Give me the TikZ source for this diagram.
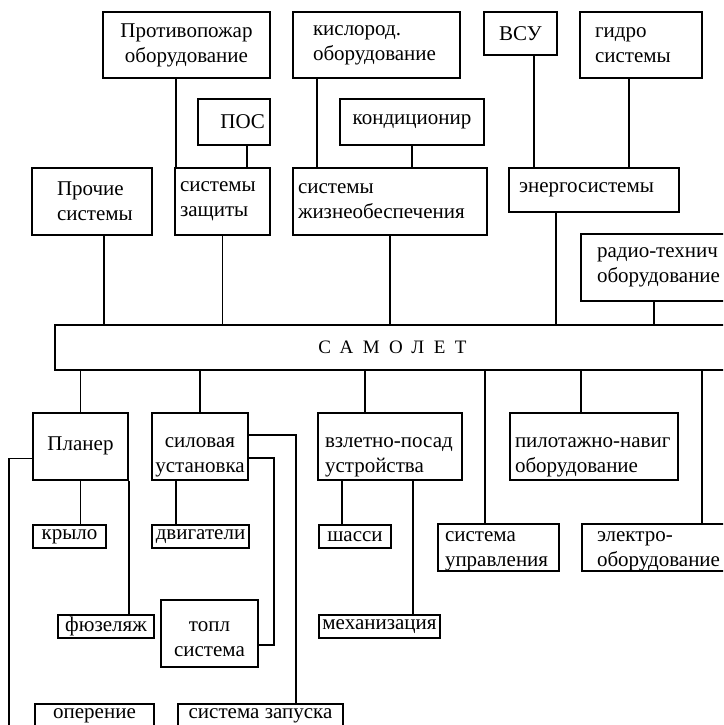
\documentclass[tikz,border=0pt]{standalone}
\usepackage{fontspec}
\setmainfont{Liberation Serif}
\usetikzlibrary{calc}
\newcommand{\lowrule}[1]{\rule{0pt}{#1pt}}

\begin{document}
\begin{tikzpicture}[x=1pt, y=-1pt,
  blk/.style={draw, line width=1.7pt, rectangle, inner sep=0pt, align=center,
    font=\fontsize{21}{25}\selectfont},
  lblk/.style={blk, align=left},
  cutblk/.style={blk, text height=14pt, text depth=42pt},
  link/.style={line width=1.7pt}]
  \useasboundingbox (0,0) rectangle (723,725);
  \clip (0,0) rectangle (723,725);

  % upper part
  \node[blk, minimum width=167pt, minimum height=66pt] (fire) at (186.5,45) {Противопожар\\оборудование};
  \node[lblk, minimum width=167pt, minimum height=66pt, text width=127pt] (oxy) at (376.5,45) {кислород.\\оборудование};
  \node[blk, minimum width=73pt, minimum height=43pt] (apu) at (520.5,33.5) {ВСУ};
  \node[lblk, minimum width=122pt, minimum height=66pt, text width=92pt] (hydro) at (641,45) {гидро\\системы};
  \node[blk, align=right, minimum width=72pt, minimum height=46pt, text width=62pt] (pos) at (234,122) {ПОС};
  \node[blk, minimum width=144pt, minimum height=46pt] (cond) at (412,122) {кондиционир};
  \node[lblk, minimum width=120pt, minimum height=67pt, text width=70pt] (other) at (92,201.5) {Прочие\\системы};
  \node[lblk, minimum width=95pt, minimum height=67pt, text width=85pt] (prot) at (222.5,201.5) {системы\\защиты};
  \node[lblk, minimum width=194pt, minimum height=67pt, text width=184pt] (life) at (390,201.5) {системы\\жизнеобеспечения};
  \node[lblk, minimum width=170pt, minimum height=44pt, text width=150pt] (energy) at (594,190) {энергосистемы};
  \node[lblk, minimum width=179pt, minimum height=67pt, text width=147pt] (radio) at (670.5,267.5) {радио-технич\\оборудование};

  \node[blk, minimum width=675pt, minimum height=45pt, font=\fontsize{19}{22}\selectfont] (plane) at (392.5,347.5)
    {\addfontfeature{LetterSpace=50}САМОЛЕТ};

  % lower part
  \node[blk, minimum width=95pt, minimum height=67pt, text height=37pt, text depth=30pt] (airframe) at (80.5,446.5) {Планер};
  \node[blk, minimum width=96pt, minimum height=67pt] (power) at (200,446.5) {\lowrule{32}силовая\\установка};
  \node[lblk, minimum width=144pt, minimum height=67pt, text width=130pt] (gear) at (390,446.5) {\lowrule{32}взлетно-посад\\устройства};
  \node[lblk, minimum width=168pt, minimum height=67pt, text width=158pt] (nav) at (594,446.5) {\lowrule{32}пилотажно-навиг\\оборудование};
  \node[blk, minimum width=73pt, minimum height=23pt] (wing) at (69.5,536.5) {крыло};
  \node[blk, minimum width=97pt, minimum height=23pt] (engines) at (200.5,536.5) {двигатели};
  \node[blk, minimum width=72pt, minimum height=23pt] (chassis) at (355,536.5) {шасси};
  \node[lblk, minimum width=121pt, minimum height=45pt, text width=107pt] (ctrl) at (498.5,547.5) {\lowrule{18}система\\управления};
  \node[lblk, minimum width=178pt, minimum height=45pt, text width=148pt] (elec) at (671,547.5) {\lowrule{18}электро-\\оборудование};
  \node[blk, minimum width=96pt, minimum height=23pt] (fuselage) at (106,626.5) {фюзеляж};
  \node[blk, minimum width=97pt, minimum height=67pt] (fuel) at (209.5,633.5) {\lowrule{22}топл\\система};
  \node[blk, minimum width=121pt, minimum height=23pt] (mech) at (379.5,626.5) {механизация};
  \node[cutblk, minimum width=119pt, minimum height=56pt] (tail) at (94.5,732) {оперение};
  \node[cutblk, minimum width=165pt, minimum height=56pt] (start) at (260.5,732) {система запуска};

  \draw[link] ($(prot.north west)+(2,0)$) coordinate (p1) -- (p1 |- fire.south);
  \draw[link] ($(pos.south)+(13,0)$) coordinate (p2) -- (p2 |- prot.north);
  \draw[link] ($(oxy.south west)+(25,0)$) coordinate (p3) -- (p3 |- life.north);
  \draw[link] (cond.south) -- (cond.south |- life.north);
  \draw[link] ($(apu.south)+(13.5,0)$) coordinate (p5) -- (p5 |- energy.north);
  \draw[link] ($(hydro.south)+(-12,0)$) coordinate (p6) -- (p6 |- energy.north);
  \draw[link] ($(other.south)+(12,0)$) coordinate (p7) -- (p7 |- plane.north);
  \draw[link] (prot.south) -- (prot.south |- plane.north);
  \draw[link] (life.south) -- (life.south |- plane.north);
  \draw[link] ($(energy.south west)+(48,0)$) coordinate (p10) -- (p10 |- plane.north);
  \draw[link] ($(radio.south west)+(74,0)$) coordinate (p11) -- (p11 |- plane.north);

  \draw[link] (airframe.north) -- (airframe.north |- plane.south);
  \draw[link] (power.north) -- (power.north |- plane.south);
  \draw[link] ($(gear.north west)+(48,0)$) coordinate (q1) -- (q1 |- plane.south);
  \draw[link] ($(ctrl.north west)+(48,0)$) coordinate (q2) -- (q2 |- plane.south);
  \draw[link] ($(nav.north west)+(72,0)$) coordinate (q3) -- (q3 |- plane.south);
  \draw[link] ($(elec.north west)+(121,0)$) coordinate (q4) -- (q4 |- plane.south);

  \draw[link] (airframe.south) -- (airframe.south |- wing.north);
  \draw[link] (airframe.south east) -- (airframe.south east |- fuselage.north);
  \draw[link] ($(airframe.west)+(0,12)$) -| ($(tail.west)+(-25,0)$) -- (tail.west);
  \draw[link] ($(power.south west)+(25,0)$) coordinate (q5) -- (q5 |- engines.north);
  \draw[link] ($(power.east)+(0,11.5)$) -- ++(25,0) |- ($(fuel.east)+(0,11.5)$);
  \draw[link] ($(power.east)+(0,-11.5)$) -| ($(start.north west)+(119,0)$);
  \draw[link] ($(gear.south west)+(25,0)$) coordinate (q6) -- (q6 |- chassis.north);
  \draw[link] ($(gear.south west)+(96,0)$) coordinate (q7) -- (q7 |- mech.north);
\end{tikzpicture}
\end{document}
